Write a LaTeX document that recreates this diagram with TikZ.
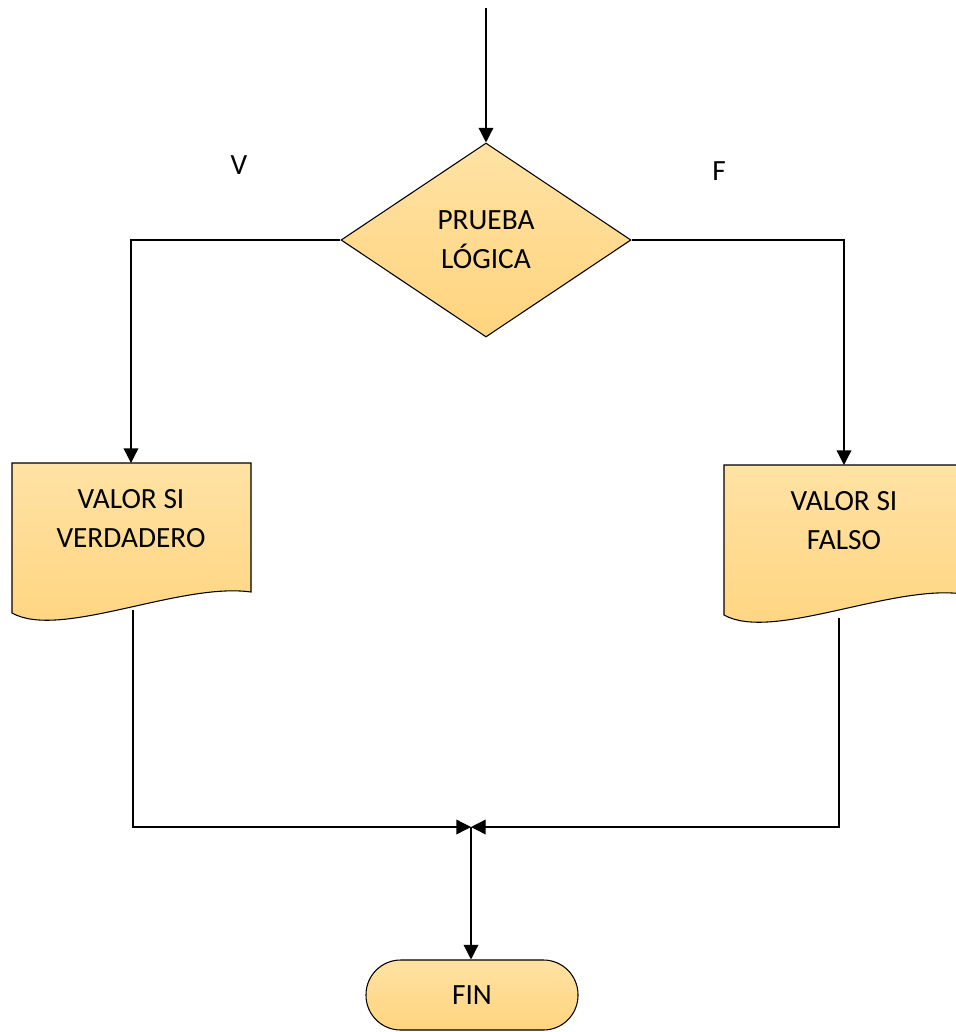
\documentclass[tikz,border=0pt]{standalone}
\usepackage{fontspec}
\setmainfont{Carlito}
\usetikzlibrary{shapes.geometric,arrows.meta}

\definecolor{ambarclaro}{HTML}{FFE2A4}
\definecolor{ambar}{HTML}{FFD47E}

\begin{document}
\begin{tikzpicture}[x=0.75pt,y=-0.75pt,
	flecha/.style={line width=1pt, -{Triangle[length=11pt,width=11pt]}},
	relleno/.style={top color=ambarclaro, bottom color=ambar, draw=black, line width=0.8pt},
	texto/.style={font=\fontsize{22}{29}\selectfont, align=center, inner sep=0pt}]

	\useasboundingbox (0,0) rectangle (956,1032);
	\clip (0,0) rectangle (956,1032);

	% Prueba logica
	\node[relleno, texto, diamond, minimum width=217.5pt, minimum height=145.5pt] (prueba) at (486,240) {PRUEBA\\LÓGICA};
	\coordinate (inicio) at (486,8);
	\draw[flecha] (inicio) -- (prueba.north);

	\node[texto] (v) at (239,165) {V};
	\node[texto] (f) at (719,171) {F};

	% Draw documents
	\shade[relleno] (12,463) -- (251,463) -- (251,592) .. controls (180,582) and (60,640) .. (12,613) -- cycle;
	\shade[relleno] (724,465) -- (963,465) -- (963,594) .. controls (892,584) and (772,642) .. (724,615) -- cycle;

	\node[texto, minimum height=82.5pt, anchor=north] (verdadero) at (131,463) {VALOR SI\\VERDADERO};
	\node[texto, minimum height=82.5pt, anchor=north] (falso) at (844,465) {VALOR SI\\FALSO};

	\draw[flecha] (prueba.west) -| (verdadero.north);
	\draw[flecha] (prueba.east) -| (falso.north);

	% Join
	\coordinate (verdadero-sal) at (133,610);
	\coordinate (falso-sal) at (839,618);
	\coordinate (junta) at (471,827);
	\draw[flecha] (verdadero-sal) |- (junta);
	\draw[flecha] (falso-sal) |- (junta);

	% Fin
	\node[relleno, texto, rounded corners=26pt, minimum width=159pt, minimum height=52.5pt] (fin) at (472,995) {FIN};
	\draw[flecha] (junta) -- (junta |- fin.north);

\end{tikzpicture}
\end{document}
